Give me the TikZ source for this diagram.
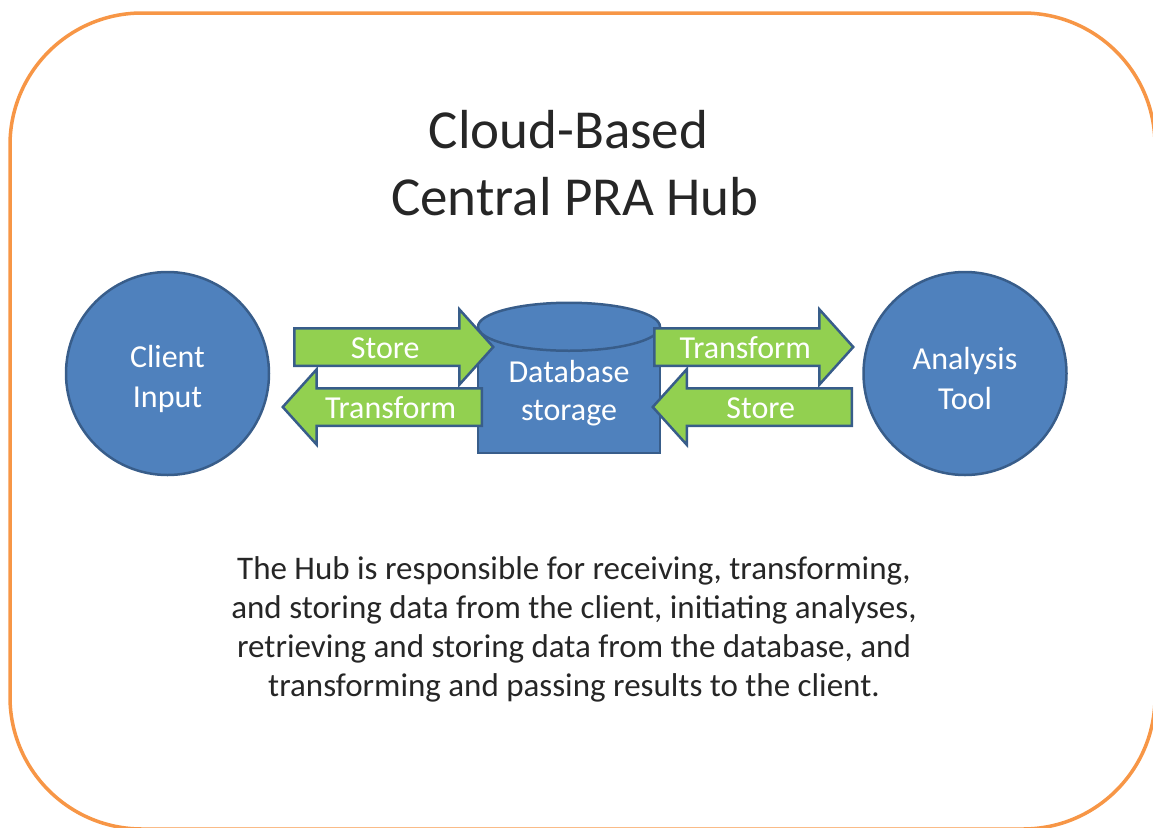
\documentclass[tikz,border=0pt]{standalone}
\usepackage{fontspec}
\setmainfont{Carlito}
\usetikzlibrary{shapes,arrows,positioning,calc}

\definecolor{huborange}{HTML}{F79646}
\definecolor{hubblue}{HTML}{4F81BD}
\definecolor{hubedge}{HTML}{385D8A}
\definecolor{hubgreen}{HTML}{92D050}

\begin{document}
\begin{tikzpicture}[
    x=1pt, y=-1pt,
    hubframe/.style={draw=huborange, line width=3.5pt, rounded corners=132pt},
    titletext/.style={text=black!85, font=\fontsize{55}{67}\selectfont, inner sep=0pt},
    inlabel/.style={align=center, text=white, font=\fontsize{32}{40}\selectfont},
    endpoint/.style={circle, draw=hubedge, line width=2.5pt, fill=hubblue, minimum size=203pt},
    dbbox/.style={rectangle, draw=hubedge, line width=2.5pt, fill=hubblue, minimum width=182pt, minimum height=125pt},
    dbtop/.style={draw=hubedge, line width=2.5pt, fill=hubblue},
    rightflow/.style={single arrow, draw=hubedge, line width=2.5pt, fill=hubgreen, text=white, font=\fontsize{32}{38}\selectfont, minimum height=199pt, minimum width=0pt, single arrow head extend=19pt, single arrow tip angle=96, inner xsep=2pt, inner ysep=2.5pt, text height=26pt, text depth=4pt},
    leftflow/.style={rightflow, shape border rotate=180},
    note/.style={align=center, text=black!85, font=\fontsize{33}{39}\selectfont}
]
\useasboundingbox (0,0) rectangle (1153,827);

% Outer frame
\draw[hubframe] (10,13) rectangle (1155,829);

% Title
\node[titletext, anchor=base] (title1) at (568.5,148) {Cloud-Based};
\node[titletext, anchor=base] (title2) at (575,215) {Central PRA Hub};

% Client and analysis tool
\node[endpoint, label={[inlabel, yshift=-5pt]center:{Client\\Input}}] (client) at (167.5,373.5) {};
\node[endpoint, label={[inlabel, yshift=-5pt]center:{Analysis\\Tool}}] (tool) at (965,373.5) {};

% Database
\node[dbbox] (db) at (569,390.5) {};
\draw[dbtop] (db.north) ellipse [x radius=91pt, y radius=24pt];
\node[inlabel, font=\fontsize{32}{38}\selectfont] (dblabel) at ($(db.center)+(0,3)$) {Database\\storage};

% Arrows
\node[rightflow, anchor=tail] (store1) at (293,347) {Store};
\node[leftflow, anchor=tail] (transform1) at (483,407) {Transform};
\node[rightflow, anchor=tail] (transform2) at (653,347) {Transform};
\node[leftflow, anchor=tail] (store2) at (853,407) {Store};

% Description
\node[note] (note) at (574,629) {The Hub is responsible for receiving, transforming,\\and storing data from the client, initiating analyses,\\retrieving and storing data from the database, and\\transforming and passing results to the client.};

\end{tikzpicture}
\end{document}
